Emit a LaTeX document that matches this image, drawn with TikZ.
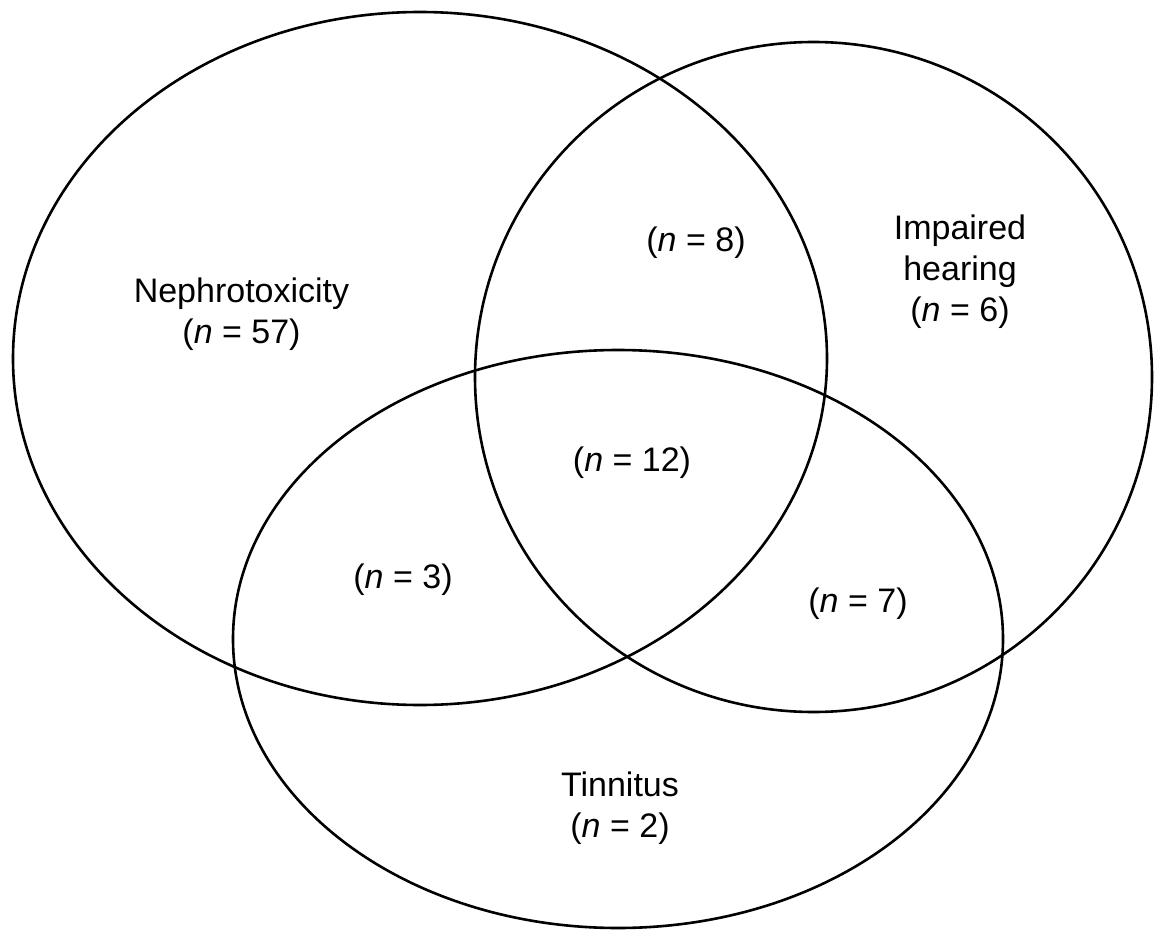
\documentclass[tikz,border=0pt]{standalone}
\usepackage{fontspec}
\setmainfont{Liberation Sans}
\begin{document}
\begin{tikzpicture}[x=1pt,y=-1pt,
  venn/.style={line width=2.6pt,black},
  lbl/.style={font=\fontsize{34}{41}\selectfont,align=center,inner sep=0pt}]
\useasboundingbox (0,0) rectangle (1157,931);
\coordinate (cN) at (420,358.5);
\coordinate (cI) at (813.5,377);
\coordinate (cT) at (618,639);
\draw[venn] (cN) ellipse [x radius=407, y radius=346.5];
\draw[venn] (cI) ellipse [x radius=338.5, y radius=335];
\draw[venn] (cT) ellipse [x radius=385, y radius=289];
\node[lbl] (neph) at (241.5,314) {Nephrotoxicity\\(\textit{n} = 57)};
\node[lbl] (imp) at (960,272) {Impaired\\hearing\\(\textit{n} = 6)};
\node[lbl] (tin) at (620,808) {Tinnitus\\(\textit{n} = 2)};
\node[lbl] (ni) at (696,243) {(\textit{n} = 8)};
\node[lbl] (all) at (632,463) {(\textit{n} = 12)};
\node[lbl] (nt) at (403,580) {(\textit{n} = 3)};
\node[lbl] (it) at (858,604) {(\textit{n} = 7)};
\end{tikzpicture}
\end{document}
